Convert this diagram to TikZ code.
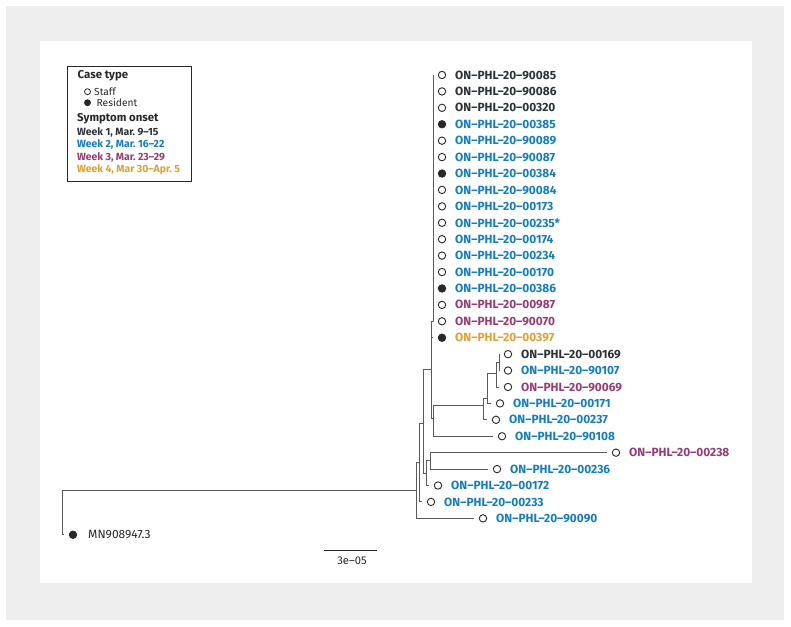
\documentclass[tikz,border=0pt]{standalone}
\usepackage{fontspec}
\setmainfont{Fira Sans}
\definecolor{framegrey}{RGB}{237,238,237}
\definecolor{dk}{RGB}{40,40,40}
\definecolor{wka}{RGB}{45,50,55}
\definecolor{wkb}{RGB}{20,125,190}
\definecolor{wkc}{RGB}{150,60,115}
\definecolor{wkd}{RGB}{225,160,50}
\definecolor{branchc}{RGB}{90,90,90}
\newcommand\tipnode[6]{%
  \coordinate (#1) at (#2, 75+16.42*#3);
  \node[#5] (#1c) at (#2+9, 75+16.42*#3) {};
  \node[tiplab, text=#4] (#1l) at (#2+22, 75+16.42*#3) {#6};
}
\begin{document}
\begin{tikzpicture}[x=1pt,y=-1pt,
  opencirc/.style={circle, draw=dk, fill=white, line width=0.9pt, minimum size=7.4pt, inner sep=0pt},
  fillcirc/.style={circle, draw=dk, fill=dk, line width=0.9pt, minimum size=7.4pt, inner sep=0pt},
  tiplab/.style={anchor=west, inner sep=0pt, font=\fontsize{11.9}{13}\selectfont\bfseries},
  branch/.style={draw=branchc, line width=0.9pt},
  legtitle/.style={anchor=west, inner sep=0pt, font=\fontsize{11.4}{13}\selectfont\bfseries, text=dk},
  legitem/.style={anchor=west, inner sep=0pt, font=\fontsize{10.4}{12}\selectfont\bfseries},
  legcase/.style={anchor=west, inner sep=0pt, font=\fontsize{10.2}{12}\selectfont, text=dk},
  legcirc/.style={circle, draw=dk, line width=0.8pt, minimum size=6pt, inner sep=0pt}]
\useasboundingbox (0,0) rectangle (791,626);
\fill[white] (0,0) rectangle (791,626);
\fill[framegrey] (6,6) rectangle (784,620);
\fill[white] (40,41) rectangle (752,583);

% internal nodes
\coordinate (R) at (62,490);
\coordinate (A) at (416,490);
\coordinate (B) at (419,462);
\coordinate (C) at (423,423);
\coordinate (D) at (431,369);
\coordinate (E) at (426,473);
\coordinate (F) at (430,460);
\coordinate (M) at (433,321.3);
\coordinate (G) at (433,418);
\coordinate (H) at (483,405);
\coordinate (I) at (487,398);
\coordinate (J) at (496,373);
\coordinate (K) at (499,362);

% tips
\tipnode{t0}{433}{0}{wka}{opencirc}{ON--PHL--20--90085}
\tipnode{t1}{433}{1}{wka}{opencirc}{ON--PHL--20--90086}
\tipnode{t2}{433}{2}{wka}{opencirc}{ON--PHL--20--00320}
\tipnode{t3}{433}{3}{wkb}{fillcirc}{ON--PHL--20--00385}
\tipnode{t4}{433}{4}{wkb}{opencirc}{ON--PHL--20--90089}
\tipnode{t5}{433}{5}{wkb}{opencirc}{ON--PHL--20--90087}
\tipnode{t6}{433}{6}{wkb}{fillcirc}{ON--PHL--20--00384}
\tipnode{t7}{433}{7}{wkb}{opencirc}{ON--PHL--20--90084}
\tipnode{t8}{433}{8}{wkb}{opencirc}{ON--PHL--20--00173}
\tipnode{t9}{433}{9}{wkb}{opencirc}{ON--PHL--20--00235*}
\tipnode{t10}{433}{10}{wkb}{opencirc}{ON--PHL--20--00174}
\tipnode{t11}{433}{11}{wkb}{opencirc}{ON--PHL--20--00234}
\tipnode{t12}{433}{12}{wkb}{opencirc}{ON--PHL--20--00170}
\tipnode{t13}{433}{13}{wkb}{fillcirc}{ON--PHL--20--00386}
\tipnode{t14}{433}{14}{wkc}{opencirc}{ON--PHL--20--00987}
\tipnode{t15}{433}{15}{wkc}{opencirc}{ON--PHL--20--90070}
\tipnode{t16}{433}{16}{wkd}{fillcirc}{ON--PHL--20--00397}
\tipnode{t17}{499}{17}{wka}{opencirc}{ON--PHL--20--00169}
\tipnode{t18}{499}{18}{wkb}{opencirc}{ON--PHL--20--90107}
\tipnode{t19}{499}{19}{wkc}{opencirc}{ON--PHL--20--90069}
\tipnode{t20}{491}{20}{wkb}{opencirc}{ON--PHL--20--00171}
\tipnode{t21}{487}{21}{wkb}{opencirc}{ON--PHL--20--00237}
\tipnode{t22}{493}{22}{wkb}{opencirc}{ON--PHL--20--90108}
\tipnode{t23}{607}{23}{wkc}{opencirc}{ON--PHL--20--00238}
\tipnode{t24}{488}{24}{wkb}{opencirc}{ON--PHL--20--00236}
\tipnode{t25}{429}{25}{wkb}{opencirc}{ON--PHL--20--00172}
\tipnode{t26}{422}{26}{wkb}{opencirc}{ON--PHL--20--00233}
\tipnode{t27}{474}{27}{wkb}{opencirc}{ON--PHL--20--90090}
\coordinate (mn) at (64, 75+16.42*28);
\node[fillcirc] (mnc) at (73, 75+16.42*28) {};
\node[anchor=west, inner sep=0pt, font=\fontsize{12}{13}\selectfont, text=dk] (mnl) at (88, 75+16.42*28) {MN908947.3};

% branches
\draw[branch] (R) |- (A);
\draw[branch] (R) |- (mn);
\draw[branch] (A) |- (B);
\draw[branch] (A) |- (t27);
\draw[branch] (B) |- (C);
\draw[branch] (B) |- (t26);
\draw[branch] (C) |- (D);
\draw[branch] (C) |- (E);
\draw[branch] (E) |- (F);
\draw[branch] (E) |- (t25);
\draw[branch] (F) |- (t23);
\draw[branch] (F) |- (t24);
\draw[branch] (D) |- (M);
\draw[branch] (D) |- (t16);
\draw[branch] (D) |- (G);
\draw[branch] (G) |- (H);
\draw[branch] (G) |- (t22);
\draw[branch] (H) |- (I);
\draw[branch] (H) |- (t21);
\draw[branch] (I) |- (J);
\draw[branch] (I) |- (t20);
\draw[branch] (J) |- (K);
\draw[branch] (J) |- (t19);
\draw[branch] (K) |- (t17);
\draw[branch] (K) |- (t18);
\foreach \i in {0,...,15} { \draw[branch] (M) |- (t\i); }

% legend
\node[draw=dk, line width=0.8pt, minimum width=124pt, minimum height=115pt, anchor=north west, inner sep=0pt] (leg) at (67,66) {};
\node[legtitle] (lt1) at (77.5,76) {Case type};
\node[legcirc, fill=white] (lc1) at (87.5,91.7) {};
\node[legcase] (ls) at (94,91.7) {Staff};
\node[legcirc, fill=dk] (lc2) at (87.5,102.7) {};
\node[legcase] (lr) at (96.5,102.7) {Resident};
\node[legtitle] (lt2) at (77,118.3) {Symptom onset};
\node[legitem, text=wka] (w1) at (77,132) {Week 1, Mar.\ 9--15};
\node[legitem, text=wkb] (w2) at (77,144.5) {Week 2, Mar.\ 16--22};
\node[legitem, text=wkc] (w3) at (77,157) {Week 3, Mar.\ 23--29};
\node[legitem, text=wkd] (w4) at (77,169.5) {Week 4, Mar 30--Apr.\ 5};

% scale bar
\coordinate (s1) at (324,550.7);
\coordinate (s2) at (377,550.7);
\draw[draw=dk, line width=1.3pt] (s1) -- (s2);
\node[inner sep=0pt, font=\fontsize{11.2}{12}\selectfont, text=dk] (sl) at (352,560.5) {3e--05};
\end{tikzpicture}
\end{document}
